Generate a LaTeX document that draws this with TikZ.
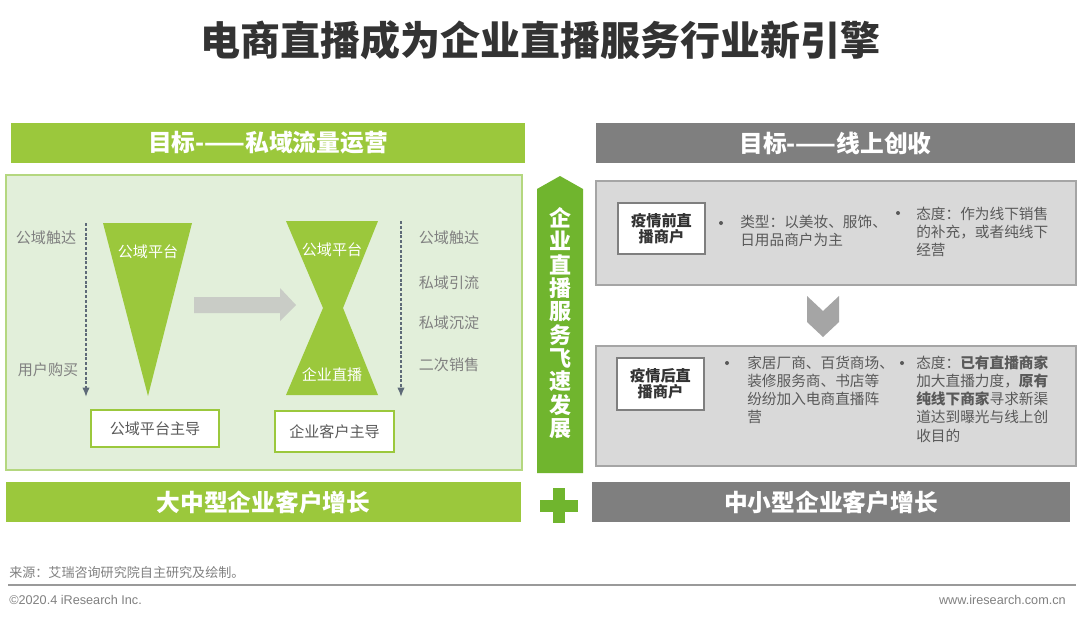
\documentclass[tikz,border=0pt]{standalone}
\usepackage{fontspec}
\setmainfont{Noto Sans CJK SC}
\newfontfamily\latinfont{Liberation Sans}
\usetikzlibrary{calc,arrows,arrows.meta,positioning}

\definecolor{leafgreen}{HTML}{9BC83C}
\definecolor{stemgreen}{HTML}{70B52E}
\definecolor{panelfill}{HTML}{E2EFDA}
\definecolor{paneledge}{HTML}{B4D77F}
\definecolor{bargray}{HTML}{7F7F7F}
\definecolor{boxgray}{HTML}{D9D9D9}
\definecolor{edgegray}{HTML}{A5A5A5}
\definecolor{inkgray}{HTML}{595959}
\definecolor{softgray}{HTML}{808080}
\definecolor{dashblue}{HTML}{5E6A78}
\definecolor{shiftgray}{HTML}{C9CCC6}
\definecolor{titleink}{HTML}{333333}

\newcommand{\fsz}[2]{\fontsize{#1}{#2}\selectfont}

\begin{document}
\begin{tikzpicture}[x=0.75pt, y=-0.75pt, line/.style={>={Latex[length=7pt,width=5.5pt]}},
    bar/.style={inner sep=0pt, minimum height=30pt, text=white, font=\fsz{17.8}{20}\bfseries},
    lbl/.style={inner sep=0pt, text=softgray, font=\fsz{11.3}{13}},
    tag/.style={draw=leafgreen, line width=1pt, fill=white, inner sep=0pt, minimum width=96pt, text=inkgray, font=\fsz{11.3}{13}},
    merchant/.style={draw=bargray, line width=0.9pt, fill=white, inner sep=0pt, minimum width=65.25pt, align=center, text=titleink, font=\fsz{11.4}{12.2}\bfseries},
    body/.style={inner sep=0pt, anchor=north west, align=left, text=inkgray, font=\fsz{11}{13.6}},
    dot/.style={circle, fill=inkgray, inner sep=0pt, minimum size=3pt},
    flow/.style={line, ->, dashblue, line width=1.1pt, dash pattern=on 2.2pt off 1.4pt}]
    \useasboundingbox[fill=white] (0,0) rectangle (1080,618);

    \node[text=titleink, font=\fsz{30}{34}\bfseries] (title) at (540,40) {电商直播成为企业直播服务行业新引擎};

    % left column
    \node[bar, fill=leafgreen, minimum width=385.5pt] (privgoal) at (268,143) {目标-——私域流量运营};
    \node[draw=paneledge, fill=panelfill, line width=1.2pt, inner sep=0pt, minimum width=387pt, minimum height=221.25pt] (panel) at (264,322.5) {};
    \node[bar, fill=leafgreen, minimum width=386.25pt] (biggrow) at (263.5,502) {大中型企业客户增长};

    \fill[leafgreen] (103,223) -- (192,223) -- (148,396) -- cycle;
    \fill[leafgreen] (286,221) -- (378,221) -- (343,308) -- (378,395) -- (286,395) -- (323,308) -- cycle;
    \fill[shiftgray] (194,297) -- (280,297) -- (280,288) -- (296,305) -- (280,321) -- (280,313) -- (194,313) -- cycle;

    \node[lbl, text=white] (funnel) at (148,252) {公域平台};
    \node[lbl, text=white] (glasstop) at (332,250) {公域平台};
    \node[lbl, text=white] (glassbot) at (332,375) {企业直播};

    \coordinate (lt) at (86,223);
    \coordinate (lb) at (86,397);
    \coordinate (rt) at (401,221);
    \coordinate (rb) at (401,397);
    \draw[flow] (lt) -- (lb);
    \draw[flow] (rt) -- (rb);

    \node[lbl] (reachA) at (46,238) {公域触达};
    \node[lbl] (buy) at (48,370) {用户购买};
    \node[lbl] (reachB) at (449,238) {公域触达};
    \node[lbl] (lead) at (449,283) {私域引流};
    \node[lbl] (keep) at (449,323) {私域沉淀};
    \node[lbl] (resell) at (449,365) {二次销售};

    \node[tag, minimum height=27.75pt] (publed) at (155,428.5) {公域平台主导};
    \node[tag, minimum width=89.25pt, minimum height=30.75pt] (bizled) at (334.5,431.5) {企业客户主导};

    % middle
    \fill[stemgreen] (537,189) -- (560,176) -- (583,189) -- (583,473) -- (537,473) -- cycle;
    \node[align=center, text=white, inner sep=0pt, font=\fsz{16.5}{17.5}\bfseries] (rise) at (560,323)
        {企\\业\\直\\播\\服\\务\\飞\\速\\发\\展};
    \fill[stemgreen] (553,488) rectangle (565,523);
    \fill[stemgreen] (540,499.5) rectangle (578,511.5);

    % right column
    \node[bar, fill=bargray, minimum width=359.25pt] (incgoal) at (835.5,143) {目标-——线上创收};
    \node[draw=edgegray, fill=boxgray, line width=1pt, inner sep=0pt, minimum width=360pt, minimum height=78pt] (before) at (836,233) {};
    \node[draw=edgegray, fill=boxgray, line width=1pt, inner sep=0pt, minimum width=360pt, minimum height=90pt] (after) at (836,406) {};
    \node[bar, fill=bargray, minimum width=358.5pt] (smallgrow) at (831,502) {中小型企业客户增长};
    \fill[edgegray] (807,296) -- (823,311) -- (839,296) -- (839,322) -- (823,337) -- (807,322) -- cycle;

    \node[merchant, minimum height=38.25pt] (prebox) at (661.5,228.5) {疫情前直\\播商户};
    \node[dot] (dotA) at (721,223) {};
    \node[body] (typeA) at (740,214.5) {类型：以美妆、服饰、\\日用品商户为主};
    \node[dot] (dotB) at (898,213) {};
    \node[body] (viewA) at (916,206.5) {态度：作为线下销售\\的补充，或者纯线下\\经营};

    \node[merchant, minimum height=39pt] (postbox) at (660.5,384) {疫情后直\\播商户};
    \node[dot] (dotC) at (727,363) {};
    \node[body] (typeB) at (747,355.5) {家居厂商、百货商场、\\装修服务商、书店等\\纷纷加入电商直播阵\\营};
    \node[dot] (dotD) at (902,363) {};
    \node[body] (viewB) at (916,355.5) {态度：\textbf{已有直播商家}\\加大直播力度，\textbf{原有}\\\textbf{纯线下商家}寻求新渠\\道达到曝光与线上创\\收目的};

    % footer
    \node[anchor=west, inner sep=0pt, text=softgray, font=\fsz{9.8}{11}] (source) at (9,573) {来源：艾瑞咨询研究院自主研究及绘制。};
    \coordinate (ruleL) at (8,585);
    \coordinate (ruleR) at (1076,585);
    \draw[softgray!80, line width=1.6pt] (ruleL) -- (ruleR);
    \node[anchor=west, inner sep=0pt, text=softgray, font=\latinfont\fsz{9.5}{11}] (copy) at (9,600) {©2020.4 iResearch Inc.};
    \node[anchor=east, inner sep=0pt, text=softgray, font=\latinfont\fsz{9.5}{11}] (site) at (1066,600) {www.iresearch.com.cn};
\end{tikzpicture}
\end{document}
